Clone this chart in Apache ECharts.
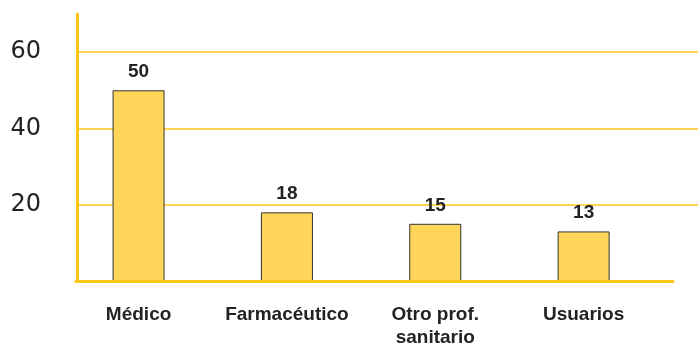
<!DOCTYPE html>
<html>
<head>
<meta charset="utf-8">
<script src="https://cdn.jsdelivr.net/npm/echarts@6/dist/echarts.min.js"></script>
<style>
  html, body { margin: 0; padding: 0; background: #fff; }
  .box { width: 698px; height: 349px; }
</style>
</head>
<body>
<div class="box"></div>
<script>
// datos
var categorias = ['Médico', 'Farmacéutico', 'Otro prof.\nsanitario', 'Usuarios'];
var valores = [50, 18, 15, 13];
var yMin = 0, yMax = 70, yPaso = 20;

var amarillo = '#FFC61A';
var relleno = '#FFD659';

var myChart = echarts.init(document.querySelector('.box'));
var option = {
  animation: false,
  grid: [
    // ejes y lineas de division
    { left: 77, right: 0, top: 14, bottom: 67.7 },
    // linea del eje x
    { left: 76, right: 25, top: 14, bottom: 67.7 },
    // barras
    { left: 64.4, right: 40.2, top: 14, bottom: 67.7 }
  ],
  xAxis: [
    { gridIndex: 0, type: 'value', show: false, min: 0, max: 1 },
    {
      gridIndex: 1, type: 'value', min: 0, max: 1, z: 5,
      axisLine: { show: true, onZero: false, lineStyle: { color: amarillo, width: 3 } },
      axisTick: { show: false },
      axisLabel: { show: false },
      splitLine: { show: false }
    },
    {
      gridIndex: 2, type: 'category', data: categorias,
      axisLine: { show: false },
      axisTick: { show: false },
      axisLabel: {
        interval: 0,
        margin: 22,
        color: '#222',
        fontFamily: 'Liberation Sans',
        fontWeight: 'bold',
        fontSize: 19,
        lineHeight: 23
      }
    }
  ],
  yAxis: [
    {
      gridIndex: 0, type: 'value', min: yMin, max: yMax, interval: yPaso,
      axisLine: { show: true, lineStyle: { color: amarillo, width: 3 } },
      axisTick: { show: false },
      axisLabel: {
        margin: 36,
        color: '#222',
        fontFamily: 'DejaVu Sans',
        fontSize: 24,
        showMinLabel: false,
        showMaxLabel: false
      },
      splitLine: {
        show: true,
        showMinLine: false,
        showMaxLine: false,
        lineStyle: { color: amarillo, width: 1.5 }
      }
    },
    { gridIndex: 1, type: 'value', min: yMin, max: yMax, show: false },
    { gridIndex: 2, type: 'value', min: yMin, max: yMax, show: false }
  ],
  series: [{
    name: 'Valores',
    type: 'bar',
    xAxisIndex: 2,
    yAxisIndex: 2,
    data: valores,
    barWidth: 52,
    itemStyle: {
      color: relleno,
      borderColor: '#333',
      borderWidth: 1
    },
    label: {
      show: true,
      position: 'top',
      distance: 9,
      color: '#222',
      fontFamily: 'Liberation Sans',
      fontWeight: 'bold',
      fontSize: 19
    }
  }]
};
myChart.setOption(option);
window.addEventListener('resize', function () {
  myChart.resize();
});
</script>
</body>
</html>
